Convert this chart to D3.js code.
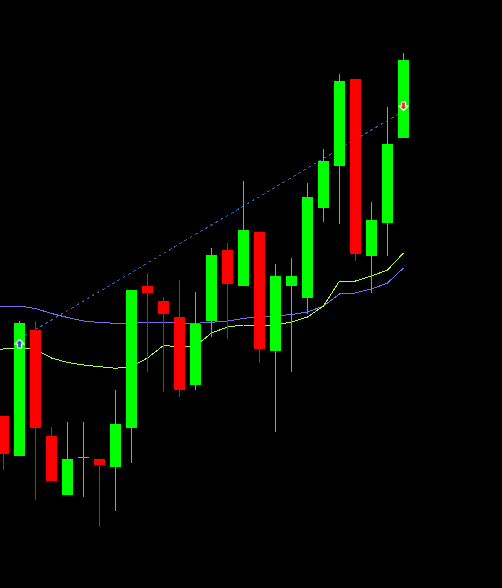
<!DOCTYPE html>
<html>
<head>
<meta charset="utf-8">
<script src="https://cdn.jsdelivr.net/npm/d3@7"></script>
<style>
html,body{margin:0;padding:0;background:#000;overflow:hidden;}
svg{display:block;}
</style>
</head>
<body>
<svg id="chart" width="502" height="588"></svg>
<script>
// Bar index (position on the time axis); bar -1 is the partly hidden bar at the left edge
const bars = d3.range(26);
const lineBars = d3.range(-1,26);
// OHLC values (price units)
const opens  = [172,132,258,152,93,130.5,129,121,160,302,287,271,203,267,338,302,356,237,302,290,380,422,509,332,365,450];
const highs  = [172,267,267,161,166,166,129,198,298,315,291,308,296,340,345,407,356,324,330,405,439,514,509,386,481,535];
const lows   = [118,132,88,107,93,91,61,77,125,216,196,191,198,251,249,302,225,156,216,274,366,364,327,295,332,450];
const closes = [134,265,160,107,129,131,123,164,298,295,274,198,264,333,304,358,239,312,312,391,427,507,334,368,444,528];
// Moving averages (from bar -1 to bar 25)
const maSlow = [282,282,282,279.5,274.5,270.5,267,265.5,264.7,264.7,265.5,265.5,264.7,264.7,265.7,267,269.5,271.5,272,273.5,276,282,294,295,299,305,320];
const maFast = [239,239,240,238.5,230,225.5,223,221.3,219.7,221.3,230,242.5,241.3,242,255,261,263,263,263,266,271,282,307,307,312,318,335];
// Signals
const buySignal  = {bar:1,  price:244};
const sellSignal = {bar:25, price:482};
const trendLine  = [{bar:1, price:249},{bar:25, price:477}];

const W = 502, H = 588;
const svg = d3.select("#chart");
svg.append("rect").attr("width",W).attr("height",H).attr("fill","#000");

const x = d3.scaleLinear().domain([0,25]).range([3.5,403.5]);
const y = d3.scaleLinear().domain([0,588]).range([588,0]);

const data = bars.map(i=>({i,o:opens[i],h:highs[i],l:lows[i],c:closes[i]}));

// moving averages
const line = d3.line().x((d,k)=>x(lineBars[k])).y(d=>y(d));
svg.append("path").datum(maSlow).attr("d",line).attr("fill","none")
  .attr("stroke","#7b68ee").attr("stroke-width",1).attr("shape-rendering","crispEdges");
svg.append("path").datum(maFast).attr("d",line).attr("fill","none")
  .attr("stroke","#adff2f").attr("stroke-width",1).attr("shape-rendering","crispEdges");

// trend line
svg.append("line")
  .attr("x1",x(trendLine[0].bar)).attr("y1",y(trendLine[0].price))
  .attr("x2",x(trendLine[1].bar)).attr("y2",y(trendLine[1].price))
  .attr("stroke","#1f62c4").attr("stroke-width",1).attr("stroke-dasharray","3,3")
  .attr("shape-rendering","crispEdges");

// candles
const g = svg.append("g").attr("shape-rendering","crispEdges");
const col = d => d.c >= d.o ? "#00ff00" : "#ff0000";
g.selectAll(".wick").data(data).enter().append("rect")
  .attr("x",d=>x(d.i)-0.5).attr("width",1)
  .attr("y",d=>y(d.h)).attr("height",d=>Math.max(1,y(d.l)-y(d.h)))
  .attr("fill",col);
g.selectAll(".body").data(data).enter().append("rect")
  .attr("x",d=>x(d.i)-5.5).attr("width",11)
  .attr("y",d=>y(Math.max(d.o,d.c))).attr("height",d=>Math.max(1,Math.abs(y(d.o)-y(d.c))))
  .attr("fill",col);
// doji crossbar
g.selectAll(".doji").data(data.filter(d=>Math.abs(d.o-d.c)<1)).enter().append("rect")
  .attr("x",d=>x(d.i)-5.5).attr("width",11)
  .attr("y",d=>y(d.c)).attr("height",1).attr("fill",col);

// arrows
function arrowUp(cx,cy){
  return `M${cx},${cy-4.5} L${cx+4.5},${cy} L${cx+2},${cy} L${cx+2},${cy+4} L${cx-2},${cy+4} L${cx-2},${cy} L${cx-4.5},${cy} Z`;
}
function arrowDown(cx,cy){
  return `M${cx},${cy+4.5} L${cx+4.5},${cy} L${cx+2},${cy} L${cx+2},${cy-4} L${cx-2},${cy-4} L${cx-2},${cy} L${cx-4.5},${cy} Z`;
}
svg.append("path").attr("d",arrowUp(x(buySignal.bar),y(buySignal.price)))
  .attr("fill","#1c5fb0").attr("stroke","#fff").attr("stroke-width",1.2);
svg.append("path").attr("d",arrowDown(x(sellSignal.bar),y(sellSignal.price)))
  .attr("fill","#e8372a").attr("stroke","#fff").attr("stroke-width",1.2);
</script>
</body>
</html>
